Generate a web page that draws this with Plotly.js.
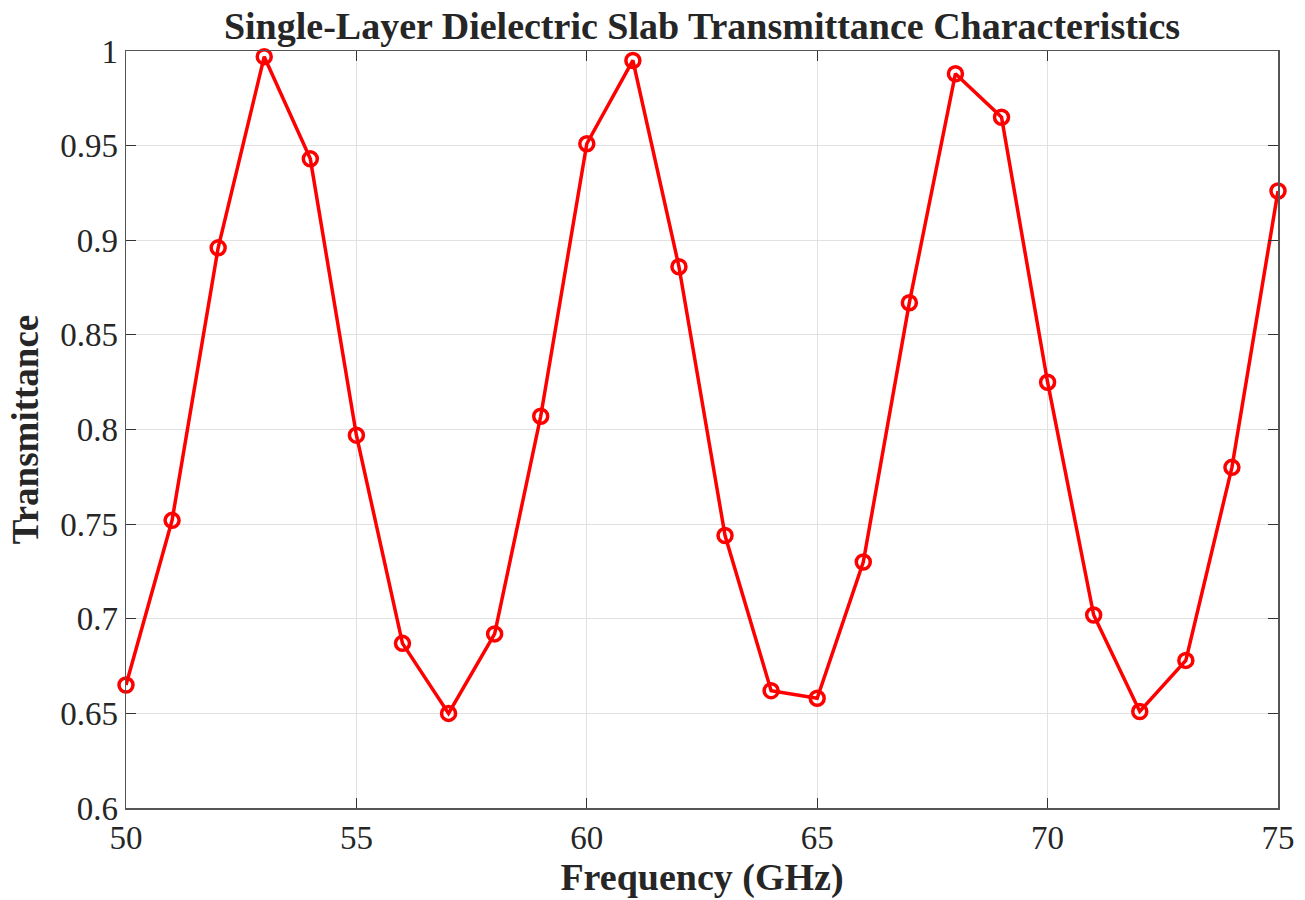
<!DOCTYPE html>
<html>
<head>
<meta charset="utf-8">
<script src="https://cdn.plot.ly/plotly-3.0.1.min.js"></script>
<style>html,body{margin:0;padding:0;background:#fff;}#chart{width:1305px;height:900px;}</style>
</head>
<body>
<div id="chart"></div>
<script>
const frequency = [50,51,52,53,54,55,56,57,58,59,60,61,62,63,64,65,66,67,68,69,70,71,72,73,74,75];
const transmittance = [0.665,0.752,0.896,0.997,0.943,0.797,0.687,0.650,0.692,0.807,0.951,0.995,0.886,0.744,0.662,0.658,0.730,0.867,0.988,0.965,0.825,0.702,0.651,0.678,0.780,0.926];
const xTicks = [50,55,60,65,70,75];
const yTicks = [0.6,0.65,0.7,0.75,0.8,0.85,0.9,0.95,1];
const yTickText = ['0.6','0.65','0.7','0.75','0.8','0.85','0.9','0.95','1'];

const trace = {
  x: frequency, y: transmittance, type: 'scatter', mode: 'lines+markers',
  line: {color: '#ff0000', width: 3.5},
  marker: {symbol: 'circle-open', size: 14, color: '#ff0000', line: {color: '#ff0000', width: 3.5}},
  cliponaxis: false, showlegend: false
};
const font = {family: '"Liberation Serif", "Times New Roman", serif', color: '#262626'};
const axisCommon = {
  showline: true, linecolor: '#555', linewidth: 1.5, mirror: 'ticks',
  ticks: 'inside', ticklen: 10, tickwidth: 1.2, tickcolor: '#333',
  showgrid: true, gridcolor: '#e1e1e1', gridwidth: 1, zeroline: false,
  tickfont: {family: font.family, size: 33, color: '#262626'}
};
const layout = {
  width: 1305, height: 900,
  paper_bgcolor: '#fff', plot_bgcolor: '#fff',
  margin: {l: 126, r: 27, t: 51, b: 92},
  title: {text: '<b>Single-Layer Dielectric Slab Transmittance Characteristics</b>',
          font: {family: font.family, size: 38, color: '#262626'}, xref: 'paper', x: 0.5, xanchor: 'center', y: 0.971, yanchor: 'middle'},
  xaxis: Object.assign({}, axisCommon, {range: [50, 75], tickvals: xTicks, ticktext: xTicks.map(String),
          title: {text: '<b>Frequency (GHz)</b>', font: {family: font.family, size: 38, color: '#262626'}, standoff: 4}}),
  yaxis: Object.assign({}, axisCommon, {range: [0.6, 1], tickvals: yTicks, ticktext: yTickText,
          title: {text: '<b>Transmittance</b>', font: {family: font.family, size: 37, color: '#262626'}, standoff: 10}}),
  font: font
};
Plotly.newPlot('chart', [trace], layout, {displayModeBar: false, staticPlot: true});
</script>
</body>
</html>
